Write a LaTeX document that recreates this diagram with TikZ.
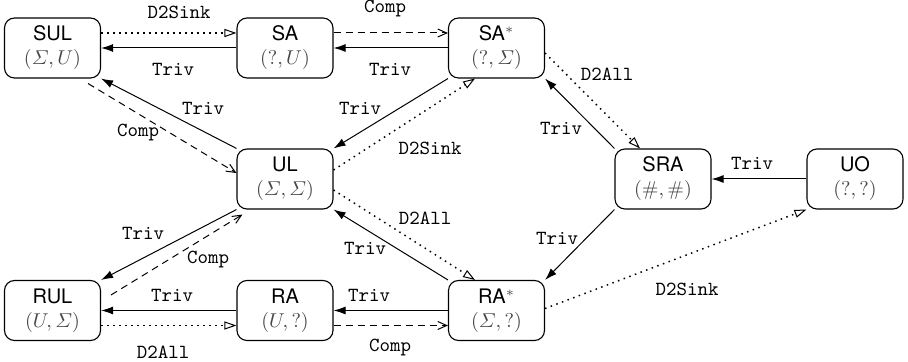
\documentclass[tikz,border=0pt]{standalone}
\usepackage{amsmath}
\usepackage{fontspec}
\newfontfamily\namefont{TeX Gyre Heros}
\usetikzlibrary{arrows.meta,calc}

% second line of a state: its pair of values, set in grey math
\newcommand{\statepair}[1]{\textcolor{black!72}{$#1$}}

\begin{document}
\begin{tikzpicture}[x=0.5pt,y=-0.5pt,
  state/.style={draw, line width=0.55pt, rounded corners=5pt,
    minimum width=48pt, minimum height=30pt, inner sep=0pt,
    align=center, font=\namefont},
  lbl/.style={font=\ttfamily, inner sep=0pt},
  trivedge/.style={line width=0.5pt, -{Latex[length=6pt,width=4pt]}},
  compedge/.style={line width=0.5pt, dash pattern=on 3.5pt off 2.5pt,
    -{Straight Barb[length=4.5pt,width=4pt]}},
  dotedge/.style={line width=0.75pt, dash pattern=on 0.75pt off 2.25pt,
    -{Triangle[open,length=6pt,width=4pt,line width=0.5pt]}}]

\useasboundingbox (0,0) rectangle (908,362);

% states
\node[state] (SUL) at (52.5,48)   {SUL\\\statepair{(\varSigma,U)}};
\node[state] (SA)  at (285,48)    {SA\\\statepair{(?,U)}};
\node[state] (SAs) at (496.5,48)  {SA\textcolor{black!72}{$^*$}\\\statepair{(?,\varSigma)}};
\node[state] (UL)  at (285,179)   {UL\\\statepair{(\varSigma,\varSigma)}};
\node[state] (SRA) at (663,179)   {SRA\\\statepair{(\#,\#)}};
\node[state] (UO)  at (855,179)   {UO\\\statepair{(?,?)}};
\node[state] (RUL) at (52.5,310.5){RUL\\\statepair{(U,\varSigma)}};
\node[state] (RA)  at (285,310.5) {RA\\\statepair{(U,?)}};
\node[state] (RAs) at (496.5,310.5){RA\textcolor{black!72}{$^*$}\\\statepair{(\varSigma,?)}};

% top row
\draw[dotedge]  ($(SUL.east)+(0,-15)$) -- ($(SA.west)+(0,-15)$);
\draw[trivedge] (SA.west) -- (SUL.east);
\draw[compedge] ($(SA.east)+(0,-15)$) -- ($(SAs.west)+(0,-15)$);
\draw[trivedge] (SAs.west) -- (SA.east);

% upper diagonals
\draw[trivedge] (UL.north west) -- (SUL.south east);
\draw[compedge] ($(SUL.south east)+(-13,5)$) -- ($(UL.west)+(0,-6)$);
\draw[trivedge] (SAs.south west) -- (UL.north east);
\draw[dotedge]  ($(UL.east)+(0,-9)$) -- ($(SAs.south)+(-21.5,0)$);
\draw[trivedge] (SRA.north west) -- (SAs.south east);
\draw[dotedge]  ($(SAs.east)+(0,5)$) -- ($(SRA.north)+(-23,0)$);

% middle
\draw[trivedge] (UO.west) -- (SRA.east);
\draw[dotedge]  ($(RAs.east)+(0,-2)$) -- (UO.south west);

% lower diagonals
\draw[trivedge] (SRA.south west) -- (RAs.north east);
\draw[dotedge]  ($(UL.east)+(0,11)$) -- ($(RAs.north)+(-21.5,0)$);
\draw[trivedge] (RAs.north west) -- (UL.south east);
\draw[trivedge] (UL.south west) -- (RUL.north east);
\draw[compedge] ($(RUL.north east)+(10,15)$) -- ($(UL.south west)+(6,5)$);

% bottom row
\draw[trivedge] (RA.west) -- (RUL.east);
\draw[dotedge]  ($(RUL.east)+(0,15)$) -- ($(RA.west)+(0,15)$);
\draw[trivedge] (RAs.west) -- (RA.east);
\draw[compedge] ($(RA.east)+(0,15)$) -- ($(RAs.west)+(0,15)$);

% connector labels
\node[lbl] (l1)  at (179,12)  {D2Sink};
\node[lbl] (l2)  at (173,69)  {Triv};
\node[lbl] (l3)  at (385,9)   {Comp};
\node[lbl] (l4)  at (390,69)  {Triv};
\node[lbl] (l5)  at (203,108) {Triv};
\node[lbl] (l6)  at (138,133) {Comp};
\node[lbl] (l7)  at (360,108) {Triv};
\node[lbl] (l8)  at (430,148) {D2Sink};
\node[lbl] (l9)  at (607,74)  {D2All};
\node[lbl] (l10) at (561,128) {Triv};
\node[lbl] (l11) at (752,163) {Triv};
\node[lbl] (l12) at (425,218) {D2All};
\node[lbl] (l13) at (365,248) {Triv};
\node[lbl] (l14) at (143,233) {Triv};
\node[lbl] (l15) at (208,260) {Comp};
\node[lbl] (l16) at (557,238) {Triv};
\node[lbl] (l17) at (687,289) {D2Sink};
\node[lbl] (l18) at (172,295) {Triv};
\node[lbl] (l19) at (163,352) {D2All};
\node[lbl] (l20) at (369,295) {Triv};
\node[lbl] (l21) at (390,347) {Comp};
\end{tikzpicture}
\end{document}
